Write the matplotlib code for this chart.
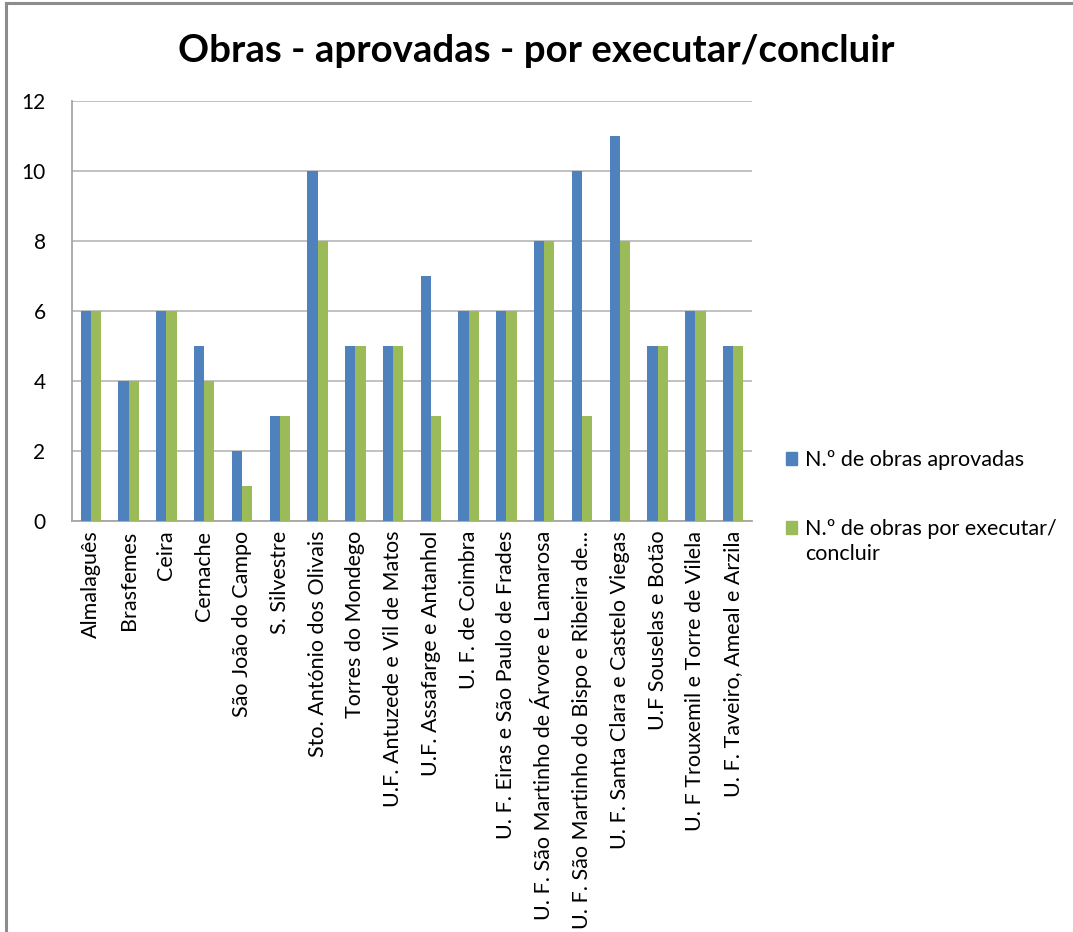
import matplotlib
matplotlib.use("Agg")
import matplotlib.pyplot as plt
import numpy as np
from matplotlib.patches import Patch

categories = [
    "Almalaguês", "Brasfemes", "Ceira", "Cernache", "São João do Campo",
    "S. Silvestre", "Sto. António dos Olivais", "Torres do Mondego",
    "U.F. Antuzede e Vil de Matos", "U.F. Assafarge e Antanhol",
    "U. F. de Coimbra", "U. F. Eiras e São Paulo de Frades",
    "U. F. São Martinho de Árvore e Lamarosa",
    "U. F. São Martinho do Bispo e Ribeira de...",
    "U. F. Santa Clara e Castelo Viegas", "U.F Souselas e Botão",
    "U. F Trouxemil e Torre de Vilela", "U. F. Taveiro, Ameal e Arzila",
]
aprovadas = [6, 4, 6, 5, 2, 3, 10, 5, 5, 7, 6, 6, 8, 10, 11, 5, 6, 5]
por_executar = [6, 4, 6, 4, 1, 3, 8, 5, 5, 3, 6, 6, 8, 3, 8, 5, 6, 5]
series_names = ["N.º de obras aprovadas", "N.º de obras por executar/"]
series_name_cont = "concluir"
yticks = [0, 2, 4, 6, 8, 10, 12]

plt.rcParams['font.family'] = ['Lato', 'DejaVu Sans']

W, H = 1073, 932
fig = plt.figure(figsize=(W / 100, H / 100), dpi=100)

# figure border (top and left visible)
fig.add_artist(plt.Line2D([6 / W, 6 / W], [0, 1 - 3 / H], transform=fig.transFigure,
                          color="#8c8c8c", lw=2.2))
fig.add_artist(plt.Line2D([6 / W, 1], [1 - 3 / H, 1 - 3 / H], transform=fig.transFigure,
                          color="#8c8c8c", lw=2.2))

ax = fig.add_axes([72 / W, 1 - 521 / H, (752 - 72) / W, (521 - 101) / H])

x = np.arange(len(categories))
w = 0.27
ax.bar(x - w / 2, aprovadas, width=w, color="#4F81BD", label=series_names[0], zorder=3)
ax.bar(x + w / 2, por_executar, width=w, color="#9BBB59", label=series_names[1], zorder=3)

ax.set_xlim(-0.5, len(categories) - 0.5)
ax.set_ylim(0, 12)
ax.set_yticks(yticks)
ax.set_yticklabels([str(v) for v in yticks], fontsize=15)
ax.set_xticks(x)
ax.set_xticklabels(categories, rotation=90, fontsize=15.5)
ax.tick_params(axis='both', length=0)
ax.tick_params(axis='y', pad=19)
ax.tick_params(axis='x', pad=7)

ax.grid(axis='y', color="#bcbcbc", lw=1.3, zorder=0)
for s in ["top", "right"]:
    ax.spines[s].set_visible(False)
ax.spines["left"].set_color("#a6a6a6")
ax.spines["bottom"].set_color("#a6a6a6")
ax.spines["left"].set_linewidth(1.3)
ax.spines["bottom"].set_linewidth(1.3)

fig.text(536 / W, 1 - 51 / H, "Obras - aprovadas - por executar/concluir",
         ha="center", va="center", fontsize=27.6, fontweight="bold")

handles = [Patch(color="#4F81BD"), Patch(color="#9BBB59")]
leg = fig.legend(handles, series_names, loc="upper left",
                 bbox_to_anchor=(769 / W, 1 - 433 / H), frameon=False,
                 fontsize=15.5, handlelength=0.5, handleheight=0.5,
                 handletextpad=0.35, labelspacing=2.27, borderpad=0.3)
fig.text(805 / W, 1 - 554 / H, series_name_cont, ha="left", va="center", fontsize=15.5)

fig.savefig("out.png", dpi=100, facecolor="white")
